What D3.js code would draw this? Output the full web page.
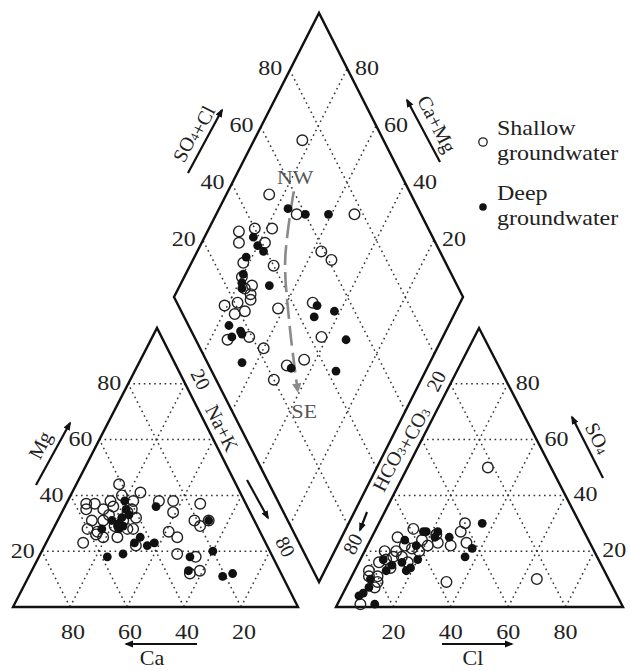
<!DOCTYPE html>
<html><head><meta charset="utf-8">
<script src="https://cdn.jsdelivr.net/npm/d3@7"></script>
<style>html,body{margin:0;padding:0;background:#fff}</style>
</head><body>
<svg id="c" width="630" height="671"></svg>
<script>
// ---------------- DATA ----------------
const ticks = [20, 40, 60, 80];
// cation triangle (percent)
const shallowCa = [41,56,53,47,42,35,57,51,47,39,41,41,60,53,57,56,51,44,46,64,30,25,27,16,21,20,32,30,33,27,32,28,16,46,50,58,50,43,46,57];
const shallowMg = [44,37,37,38,40,41,35,35,36,38,35,32,28,31,27,25,25,28,31,23,38,38,34,37,31,29,27,25,19,18,12,13,31,22,29,26,33,34,28,31];
const deepCa = [42,43,43,50,49,49,55,43,46,42,39,52,58,32,16,20,29,32,21,17,46,48,47];
const deepMg = [38,35,33,31,29,28,28,25,23,22,23,19,18,36,31,20,18,13,11,12,32,30,29];
// anion triangle (percent)
const shallowCl  = [28,65,34,30,30,34,29,13,9,18,22,24,13,11,7,11,14,17,12,7,5,9,10,10,8,6,19,16,21,9];
const shallowSO4 = [50,10,9,30,27,23,22,28,25,24,26,23,22,20,20,18,18,16,14,16,13,11,9,7,1,11,20,21,22,17];
const deepCl  = [36,37,36,27,22,22,18,12,17,20,18,19,8,12,11,7,8,7,6,13,15,17];
const deepSO4 = [30,21,18,25,27,25,27,24,22,17,13,14,17,15,13,10,7,5,4,1,16,27];
// diamond (percent)
const shallowSO4Cl = [72,51,57,77,34,32,40,46,41,59,61,40,30,26,29,26,21,16,18,22,34,47,44,11,19,22,27,34,20,27,27];
const shallowCaMg  = [83,85,72,52,89,87,84,78,78,57,52,71,82,77,75,73,77,81,76,73,62,51,42,74,67,60,49,44,51,74,80];
const deepSO4Cl = [55,60,68,38,38,39,32,28,25,35,48,45,53,14,17,17,13,12,28,52,43,26];
const deepCaMg  = [76,69,61,83,80,77,82,80,78,69,49,48,42,76,71,70,73,65,47,33,31,79];
// NW -> SE trend arrow in diamond
const trendSO4Cl = [60,45,35,27];
const trendCaMg  = [77,68,55,42];

// ---------------- GEOMETRY ----------------
const svg = d3.select('#c');
const pct = d3.scaleLinear().domain([0,100]).range([0,1]);
const LT = {bl:[13,607], br:[298,607], ap:[157,328]};
const RT = {bl:[336,607], br:[623,607], ap:[479,328]};
const DM = {b:[319,582], l:[174,297], r:[463,297], t:[319,13]};
function tern(T,a,b,c){ return [T.bl[0]*a+T.ap[0]*b+T.br[0]*c, T.bl[1]*a+T.ap[1]*b+T.br[1]*c]; }
const leftPos  = (ca,mg)=>{const a=pct(ca),b=pct(mg);return tern(LT,a,b,1-a-b);};
const rightPos = (cl,so4)=>{const c=pct(cl),b=pct(so4);return tern(RT,1-c-b,b,c);};
const diaPos = (u,v)=>{u=pct(u);v=pct(v);
  return [DM.b[0]+u*(DM.r[0]-DM.b[0])+v*(DM.l[0]-DM.b[0]), DM.b[1]+u*(DM.r[1]-DM.b[1])+v*(DM.l[1]-DM.b[1])];};

const FONT = "'Liberation Serif','Times New Roman',serif";
const defs = svg.append('defs');
defs.append('marker').attr('id','ah').attr('viewBox','0 0 10 10').attr('refX',8).attr('refY',5)
  .attr('markerWidth',4).attr('markerHeight',4).attr('orient','auto')
  .append('path').attr('d','M0,1 L10,5 L0,9 Z').attr('fill','#111');
defs.append('marker').attr('id','ahg').attr('viewBox','0 0 10 10').attr('refX',2).attr('refY',5)
  .attr('markerWidth',3.6).attr('markerHeight',3.6).attr('orient','auto')
  .append('path').attr('d','M0,0 L10,5 L0,10 Z').attr('fill','#8a8a8a');

// ---------------- GRID ----------------
const grid = svg.append('g').attr('stroke','#333').attr('stroke-width',1.5).attr('stroke-dasharray','1.6,3.6').attr('fill','none');
function seg(p,q){ grid.append('line').attr('x1',p[0]).attr('y1',p[1]).attr('x2',q[0]).attr('y2',q[1]); }
ticks.forEach(t=>{
  seg(leftPos(100-t,t), leftPos(0,t));
  seg(leftPos(t,0), leftPos(t,100-t));
  seg(leftPos(100-t,0), leftPos(0,100-t));
  seg(rightPos(0,t), rightPos(100-t,t));
  seg(rightPos(t,0), rightPos(t,100-t));
  seg(rightPos(100-t,0), rightPos(0,100-t));
  seg(diaPos(t,0), diaPos(t,100));
  seg(diaPos(0,t), diaPos(100,t));
});

// ---------------- OUTLINES ----------------
const out = svg.append('g').attr('stroke','#111').attr('stroke-width',2.4).attr('fill','none').attr('stroke-linejoin','miter');
out.append('polygon').attr('points',[LT.bl,LT.ap,LT.br].map(p=>p.join(',')).join(' '));
out.append('polygon').attr('points',[RT.bl,RT.ap,RT.br].map(p=>p.join(',')).join(' '));
out.append('polygon').attr('points',[DM.b,DM.l,DM.t,DM.r].map(p=>p.join(',')).join(' '));

// ---------------- TEXT HELPERS ----------------
function htext(x,y,s,anchor,size,sx){
  return svg.append('text').attr('transform',`translate(${x},${y}) scale(${sx||1.2},1)`)
    .attr('text-anchor',anchor||'middle').attr('font-family',FONT).attr('font-size',size||20).attr('fill','#222').text(s);
}
function rtext(x,y,angle,parts,size){
  const t = svg.append('text').attr('transform',`translate(${x},${y}) rotate(${angle})`)
    .attr('text-anchor','middle').attr('dominant-baseline','central')
    .attr('font-family',FONT).attr('font-size',size||20).attr('fill','#222');
  parts.forEach(p=>{
    if (typeof p === 'string') t.append('tspan').text(p);
    else t.append('tspan').attr('font-size',(size||20)*0.62).attr('dy',p.dy).text(p.s);
  });
  return t;
}
function arrow(x1,y1,x2,y2){
  svg.append('line').attr('x1',x1).attr('y1',y1).attr('x2',x2).attr('y2',y2)
    .attr('stroke','#111').attr('stroke-width',2.2).attr('marker-end','url(#ah)');
}

// ---------------- TICK LABELS ----------------
ticks.forEach(t=>{
  let p = leftPos(100-t,t); htext(p[0]-7,p[1]+6.5,t,'end');          // Mg
  p = leftPos(t,0); htext(p[0]+3,p[1]+31.5,t,'middle');               // Ca
  p = rightPos(t,0); htext(p[0],p[1]+31.5,t,'middle');                // Cl
  p = rightPos(100-t,t); htext(p[0]+8,p[1]+6,t,'start');              // SO4
  p = diaPos(t,100); htext(p[0]-7,p[1]+5.5,t,'end');                  // SO4+Cl
  p = diaPos(100,t); htext(p[0]+8,p[1]+5.5,t,'start');                // Ca+Mg
});
// Na+K labels (20, 80) along left triangle right edge
[20,80].forEach(t=>{
  const p = leftPos(0,100-t); const d=[0.451,0.892], n=[0.892,-0.451];
  rtext(p[0]+n[0]*16+d[0]*3, p[1]+n[1]*16+d[1]*3, 63, [String(t)], 20);
});
// HCO3+CO3 labels (20, 80) along right triangle left edge
[20,80].forEach(t=>{
  const p = rightPos(0,100-t); const d=[0.456,-0.890], n=[-0.890,-0.456];
  rtext(p[0]+n[0]*14+d[0]*(t===20?-4:1), p[1]+n[1]*14+d[1]*(t===20?-4:1), -63, [String(t)], 20);
});

// ---------------- AXIS TITLES ----------------
rtext(40,445,-63,['Mg']); arrow(36,485,70,423);
htext(152,665,'Ca','middle',20,1.1); arrow(197,644,126,644);
htext(473,665,'Cl','middle',20,1.1); arrow(442,644,512,644);
rtext(222,428,63,['Na+K']); arrow(247,480,268,518);
rtext(399,448,-63,['HCO',{s:'3',dy:4},{s:'',dy:-4},'+CO',{s:'3',dy:4}]); arrow(367,512,360,530);
rtext(598,438,63,['SO',{s:'4',dy:4}]); arrow(603,478,572,417);
rtext(192,133,-63,['SO',{s:'4',dy:4},{s:'',dy:-4},'+Cl']); arrow(188,173,222,110);
rtext(437,124,63,['Ca+Mg']); arrow(440,162,407,100);

// ---------------- TREND ARROW ----------------
const trendPts = trendSO4Cl.map((u,i)=>diaPos(u,trendCaMg[i]));
svg.append('path').attr('d',d3.line().curve(d3.curveCatmullRom)(trendPts))
  .attr('fill','none').attr('stroke','#8a8a8a').attr('stroke-width',2.6)
  .attr('stroke-dasharray','20,7').attr('marker-end','url(#ahg)');
let pNW = diaPos(63,79), pSE = diaPos(25,35);
htext(pNW[0],pNW[1]+7,'NW','middle',19,1.15).attr('fill','#555');
htext(pSE[0],pSE[1]+7,'SE','middle',19,1.15).attr('fill','#555');

// ---------------- POINTS ----------------
function pts(xs,ys,pos,filled){
  const g = svg.append('g');
  g.selectAll('circle').data(xs.map((x,i)=>pos(x,ys[i]))).join('circle')
    .attr('cx',d=>d[0]).attr('cy',d=>d[1])
    .attr('r',filled?4.4:5.3)
    .attr('fill',filled?'#111':'none')
    .attr('stroke',filled?'none':'#222').attr('stroke-width',1.4);
}
pts(shallowCa,shallowMg,leftPos,false);
pts(shallowCl,shallowSO4,rightPos,false);
pts(shallowSO4Cl,shallowCaMg,diaPos,false);
pts(deepCa,deepMg,leftPos,true);
pts(deepCl,deepSO4,rightPos,true);
pts(deepSO4Cl,deepCaMg,diaPos,true);

// ---------------- LEGEND ----------------
svg.append('circle').attr('cx',483).attr('cy',142).attr('r',4.2).attr('fill','none').attr('stroke','#222').attr('stroke-width',1.3);
htext(497,135,'Shallow','start',20);
htext(497,160,'groundwater','start',20);
svg.append('circle').attr('cx',483).attr('cy',207).attr('r',3.8).attr('fill','#111');
htext(497,200,'Deep','start',20);
htext(497,225,'groundwater','start',20);
</script>
</body></html>
